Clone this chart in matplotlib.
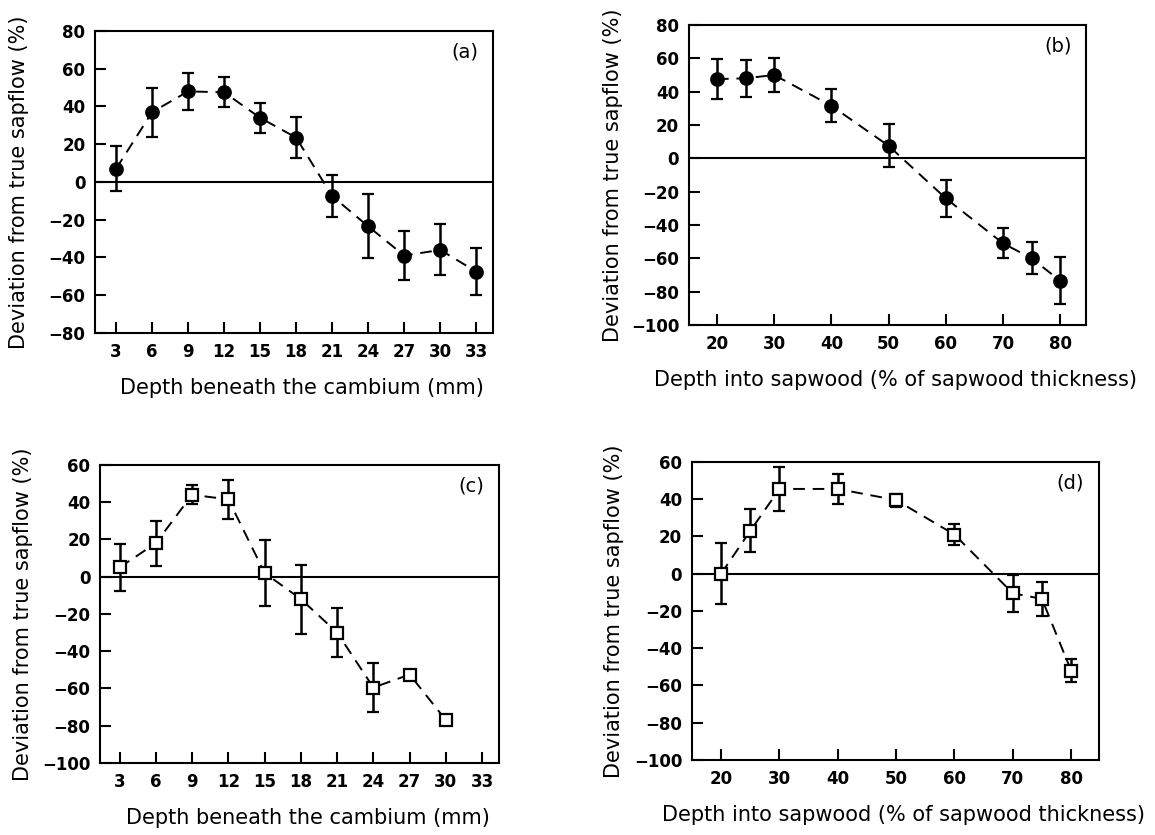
import numpy as np
import matplotlib
matplotlib.use('Agg')
import matplotlib.pyplot as plt

# panel (a): depth beneath cambium, filled circles
depth_a = [3, 6, 9, 12, 15, 18, 21, 24, 27, 30, 33]
dev_a = [7, 37, 48, 47.5, 34, 23.5, -7.5, -23.5, -39, -36, -47.5]
err_a = [12, 13, 10, 8, 8, 11, 11, 17, 13, 13.5, 12.5]

# panel (b): depth into sapwood, filled circles
depth_b = [20, 25, 30, 40, 50, 60, 70, 75, 80]
dev_b = [47.5, 48, 50, 31.5, 7.5, -24, -51, -60, -73.5]
err_b = [12, 11, 10, 10, 13, 11, 9, 9.5, 14]

# panel (c): depth beneath cambium, open squares
depth_c = [3, 6, 9, 12, 15, 18, 21, 24, 27, 30]
dev_c = [5, 18, 44, 41.5, 2, -12, -30, -59.5, -52.5, -77]
err_c = [12.5, 12, 5, 10.5, 17.5, 18.5, 13, 13, np.nan, np.nan]

# panel (d): depth into sapwood, open squares
depth_d = [20, 25, 30, 40, 50, 60, 70, 75, 80]
dev_d = [0, 23, 45.5, 45.5, 39.5, 21, -10.5, -13.5, -52]
err_d = [16.5, 11.5, 12, 8, 3.5, 5.5, 10, 9.3, 6.2]

ylabel = 'Deviation from true sapflow (%)'
xlabel_mm = 'Depth beneath the cambium (mm)'
xlabel_pct = 'Depth into sapwood (% of sapwood thickness)'

plt.rcParams['font.family'] = ['DejaVu Sans']

fig = plt.figure(figsize=(11.55, 8.35), dpi=100)


def panel(rect, x, y, err, marker, filled, xlim, xticks, ylim, yticks, xlabel, tag):
    ax = fig.add_axes(rect)
    ax.axhline(0, color='black', lw=1.5, zorder=1)
    ax.errorbar(x, y, yerr=err, color='black', ls='--', lw=1.4, dashes=(6, 4),
                marker=marker, ms=9 if filled else 8,
                mfc='black' if filled else 'white', mec='black', mew=1.6,
                ecolor='black', elinewidth=1.8, capsize=4.5, capthick=1.8, zorder=3)
    ax.set_xlim(*xlim)
    ax.set_ylim(*ylim)
    ax.set_xticks(xticks)
    ax.set_yticks(yticks)
    ax.tick_params(direction='in', length=8, width=1.5, labelsize=12, pad=7)
    for lab in ax.get_xticklabels() + ax.get_yticklabels():
        lab.set_fontweight('bold')
    for s in ax.spines.values():
        s.set_linewidth(1.5)
    ax.set_ylabel(ylabel, fontsize=15)
    ax.set_xlabel(xlabel, fontsize=15)
    ax.yaxis.set_label_coords(-0.167, 0.5)
    ax.xaxis.set_label_coords(0.52, -0.15)
    ax.text(0.93, 0.93, tag, transform=ax.transAxes, fontsize=14,
            ha='center', va='center')
    return ax


panel([0.0823, 0.6012, 0.3446, 0.3617], depth_a, dev_a, err_a, 'o', True,
      (1.25, 34.4), depth_a, (-80, 80), range(-80, 81, 20), xlabel_mm, '(a)')
panel([0.5965, 0.6108, 0.3437, 0.3593], depth_b, dev_b, err_b, 'o', True,
      (15.1, 84.5), range(20, 81, 10), (-100, 80), range(-100, 81, 20), xlabel_pct, '(b)')
panel([0.0866, 0.0862, 0.3455, 0.3570], depth_c, dev_c, err_c, 's', False,
      (1.38, 34.4), depth_a, (-100, 60), range(-100, 61, 20), xlabel_mm, '(c)')
panel([0.5991, 0.0898, 0.3520, 0.3570], depth_d, dev_d, err_d, 's', False,
      (15.0, 84.7), range(20, 81, 10), (-100, 60), range(-100, 61, 20), xlabel_pct, '(d)')

fig.savefig('out.png', dpi=100)
